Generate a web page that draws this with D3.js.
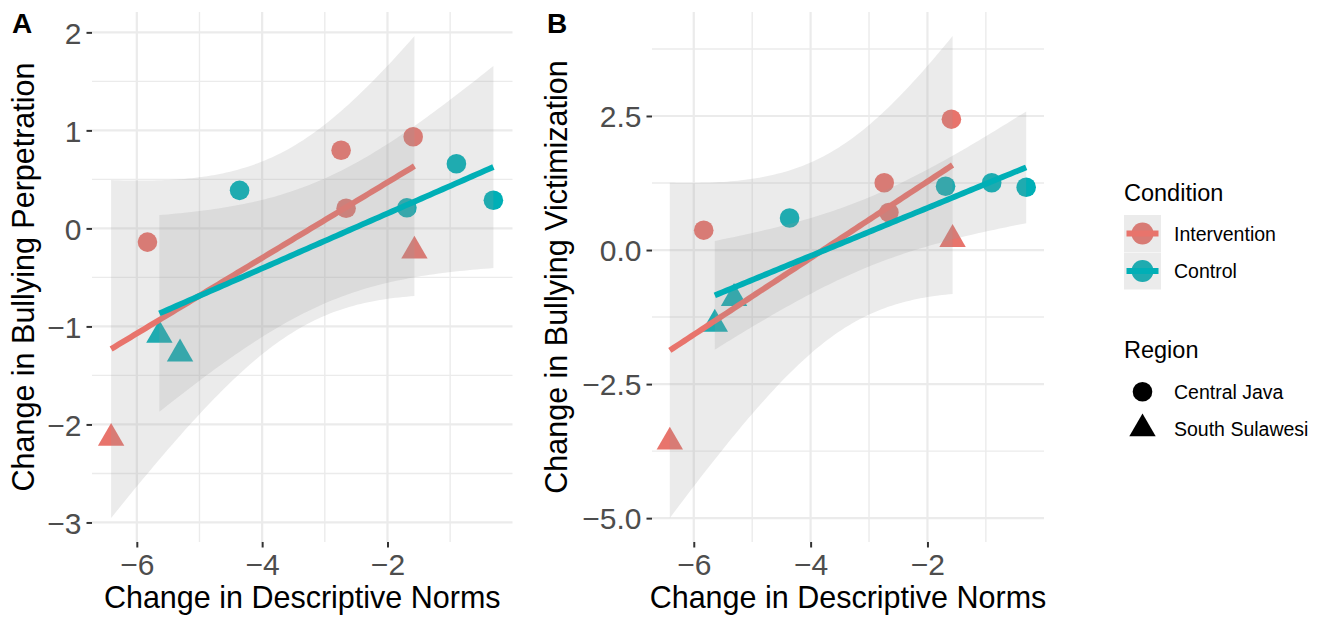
<!DOCTYPE html>
<html><head><meta charset="utf-8">
<script src="https://cdn.jsdelivr.net/npm/d3@7"></script>
<style>
body{margin:0;background:#fff}
text{font-family:"Liberation Sans",Arial,Helvetica,sans-serif}
</style>
</head><body>
<svg id="chart" width="1322" height="617"></svg>
<script>
// ---------------- data ----------------
const conditions = ["Intervention", "Control"];
const regions = ["Central Java", "South Sulawesi"];

const intNorms = [-5.83, -2.74, -2.66, -1.59, -1.57, -6.41];
const intRegion = ["Central Java", "Central Java", "Central Java", "Central Java", "South Sulawesi", "South Sulawesi"];
const intPerp = [-0.14, 0.797, 0.205, 0.935, -0.23, -2.14];
const intVict = [0.37, 1.255, 0.70, 2.44, 0.20, -3.58];

const ctlNorms = [-4.36, -1.69, -0.90, -0.31, -5.64, -5.31];
const ctlRegion = ["Central Java", "Central Java", "Central Java", "Central Java", "South Sulawesi", "South Sulawesi"];
const ctlPerp = [0.388, 0.21, 0.66, 0.287, -1.09, -1.28];
const ctlVict = [0.597, 1.19, 1.255, 1.17, -1.38, -0.90];

const xTicks = [-6, -4, -2];
const perpTicks = [-3, -2, -1, 0, 1, 2];
const victTicks = [-5, -2.5, 0, 2.5];

// ---------------- style ----------------
const colors = {Intervention: "#E8746C", Control: "#00AFB6"};
const FONT_TICK = 30, FONT_TITLE = 30.5;
const tCrit = {4: 2.776445};

const svg = d3.select("#chart");

// linear model + 95% CI like geom_smooth(method = "lm")
function lmFit(xs, ys) {
  const n = xs.length, mx = d3.mean(xs), my = d3.mean(ys);
  let sxx = 0, sxy = 0;
  xs.forEach((x, i) => { sxx += (x - mx) ** 2; sxy += (x - mx) * (ys[i] - my); });
  const b = sxy / sxx, a = my - b * mx;
  let ssr = 0;
  xs.forEach((x, i) => { ssr += (ys[i] - a - b * x) ** 2; });
  const s = Math.sqrt(ssr / (n - 2)), t = tCrit[n - 2];
  const [lo, hi] = d3.extent(xs);
  const grid = d3.range(80).map(i => lo + (hi - lo) * i / 79);
  return grid.map(x => {
    const fit = a + b * x;
    const se = s * Math.sqrt(1 / n + (x - mx) ** 2 / sxx);
    return {x, fit, lo: fit - t * se, hi: fit + t * se};
  });
}

function trianglePath(r) {
  const xc = r * Math.sqrt(3) / 2;
  return `M0,${-r}L${xc},${r / 2}L${-xc},${r / 2}Z`;
}
const PT_R = 9.8;
function drawShape(sel, region, r) {
  if (region === "Central Java") {
    sel.append("circle").attr("r", r);
  } else {
    sel.append("path").attr("d", trianglePath(r * 1.555));
  }
}

function drawPanel(box, yInt, yCtl, yTicks, yFmt, yTitle, label, labelX, yTitleX) {
  const g = svg.append("g");
  const groups = [
    {cond: "Intervention", xs: intNorms, ys: yInt, reg: intRegion},
    {cond: "Control", xs: ctlNorms, ys: yCtl, reg: ctlRegion}
  ];
  groups.forEach(gr => gr.fit = lmFit(gr.xs, gr.ys));

  const allX = intNorms.concat(ctlNorms);
  const [x0, x1] = d3.extent(allX);
  const xPad = (x1 - x0) * 0.05;
  const x = d3.scaleLinear().domain([x0 - xPad, x1 + xPad]).range([box.left, box.right]);

  const allY = yInt.concat(yCtl);
  groups.forEach(gr => gr.fit.forEach(d => { allY.push(d.lo, d.hi); }));
  const [y0, y1] = d3.extent(allY);
  const yPad = (y1 - y0) * 0.05;
  const y = d3.scaleLinear().domain([y0 - yPad, y1 + yPad]).range([box.bottom, box.top]);

  // minor breaks (halfway between majors)
  const minor = (ticks, dom) => {
    const step = ticks[1] - ticks[0];
    const out = [];
    for (let v = ticks[0] - step / 2; v <= ticks[ticks.length - 1] + step; v += step) {
      if (v >= dom[0] && v <= dom[1]) out.push(v);
    }
    return out;
  };
  const xMinor = minor(xTicks, x.domain());
  const yMinor = minor(yTicks, y.domain());

  const grid = g.append("g");
  grid.selectAll(".vminor").data(xMinor).join("line")
    .attr("x1", d => x(d)).attr("x2", d => x(d)).attr("y1", box.top).attr("y2", box.bottom)
    .attr("stroke", "#EBEBEB").attr("stroke-width", 1.4);
  grid.selectAll(".hminor").data(yMinor).join("line")
    .attr("y1", d => y(d)).attr("y2", d => y(d)).attr("x1", box.left).attr("x2", box.right)
    .attr("stroke", "#EBEBEB").attr("stroke-width", 1.4);
  grid.selectAll(".vmajor").data(xTicks).join("line")
    .attr("x1", d => x(d)).attr("x2", d => x(d)).attr("y1", box.top).attr("y2", box.bottom)
    .attr("stroke", "#EBEBEB").attr("stroke-width", 2.2);
  grid.selectAll(".hmajor").data(yTicks).join("line")
    .attr("y1", d => y(d)).attr("y2", d => y(d)).attr("x1", box.left).attr("x2", box.right)
    .attr("stroke", "#EBEBEB").attr("stroke-width", 2.2);

  // points
  groups.forEach(gr => {
    gr.xs.forEach((xv, i) => {
      const p = g.append("g").attr("transform", `translate(${x(xv)},${y(gr.ys[i])})`)
        .attr("fill", colors[gr.cond]);
      drawShape(p, gr.reg[i], PT_R);
    });
  });

  // smooths
  groups.forEach(gr => {
    g.append("path").datum(gr.fit)
      .attr("d", d3.area().x(d => x(d.x)).y0(d => y(d.lo)).y1(d => y(d.hi)))
      .attr("fill", "#999999").attr("fill-opacity", 0.2);
    g.append("path").datum(gr.fit)
      .attr("d", d3.line().x(d => x(d.x)).y(d => y(d.fit)))
      .attr("fill", "none").attr("stroke", colors[gr.cond]).attr("stroke-width", 5.8);
  });

  // axes
  const TL = 5.5;
  const xAxis = g.append("g").attr("transform", `translate(0,${box.bottom})`)
    .call(d3.axisBottom(x).tickValues(xTicks).tickSize(TL).tickPadding(0).tickFormat(d3.format("d")));
  xAxis.select(".domain").remove();
  xAxis.selectAll(".tick line").attr("stroke", "#333333").attr("stroke-width", 2);
  xAxis.selectAll(".tick text").attr("y", 33).attr("dy", null)
    .attr("fill", "#4D4D4D").style("font-size", FONT_TICK + "px");

  const yAxis = g.append("g").attr("transform", `translate(${box.left},0)`)
    .call(d3.axisLeft(y).tickValues(yTicks).tickSize(TL).tickPadding(5).tickFormat(yFmt));
  yAxis.select(".domain").remove();
  yAxis.selectAll(".tick line").attr("stroke", "#333333").attr("stroke-width", 2);
  yAxis.selectAll(".tick text").attr("dy", "0.36em")
    .attr("fill", "#4D4D4D").style("font-size", FONT_TICK + "px");

  // titles
  g.append("text").attr("x", (box.left + box.right) / 2).attr("y", 608)
    .attr("text-anchor", "middle").style("font-size", FONT_TITLE + "px").attr("fill", "#000")
    .text("Change in Descriptive Norms");
  g.append("text").attr("transform", `translate(${yTitleX},${(box.top + box.bottom) / 2}) rotate(-90)`)
    .attr("text-anchor", "middle").style("font-size", FONT_TITLE + "px").attr("fill", "#000")
    .text(yTitle);
  g.append("text").attr("x", labelX).attr("y", 33).style("font-size", "28px")
    .style("font-weight", "bold").attr("fill", "#000").text(label);
}

drawPanel({left: 92, right: 512.5, top: 12, bottom: 542}, intPerp, ctlPerp, perpTicks,
  d3.format("d"), "Change in Bullying Perpetration", "A", 12, 34);
drawPanel({left: 652, right: 1044, top: 12, bottom: 542}, intVict, ctlVict, victTicks,
  d3.format(".1f"), "Change in Bullying Victimization", "B", 547, 567);

// ---------------- legend ----------------
const lg = svg.append("g");
const LX = 1124, KEY = 37;
lg.append("text").attr("x", LX).attr("y", 200.5).style("font-size", "23.5px").attr("fill", "#000").text("Condition");
conditions.forEach((c, i) => {
  const top = 215 + i * (KEY + 0.5);
  const cy = top + KEY / 2;
  lg.append("rect").attr("x", LX).attr("y", top).attr("width", KEY).attr("height", KEY).attr("fill", "#fff");
  lg.append("circle").attr("cx", LX + KEY / 2).attr("cy", cy).attr("r", 11).attr("fill", colors[c]);
  lg.append("rect").attr("x", LX).attr("y", top).attr("width", KEY).attr("height", KEY)
    .attr("fill", "#999999").attr("fill-opacity", 0.2);
  lg.append("line").attr("x1", LX + 2.5).attr("x2", LX + KEY - 2.5).attr("y1", cy).attr("y2", cy)
    .attr("stroke", colors[c]).attr("stroke-width", 5.8);
  lg.append("text").attr("x", 1174).attr("y", cy + 7).style("font-size", "19.5px").attr("fill", "#000").text(c);
});

lg.append("text").attr("x", LX).attr("y", 357.5).style("font-size", "23.5px").attr("fill", "#000").text("Region");
regions.forEach((r, i) => {
  const cy = 391.7 + i * KEY;
  const p = lg.append("g").attr("transform", `translate(${LX + 18.5},${cy})`).attr("fill", "#000");
  drawShape(p, r, PT_R);
  lg.append("text").attr("x", 1174).attr("y", cy + 7).style("font-size", "19.5px").attr("fill", "#000").text(r);
});
</script>
</body></html>
